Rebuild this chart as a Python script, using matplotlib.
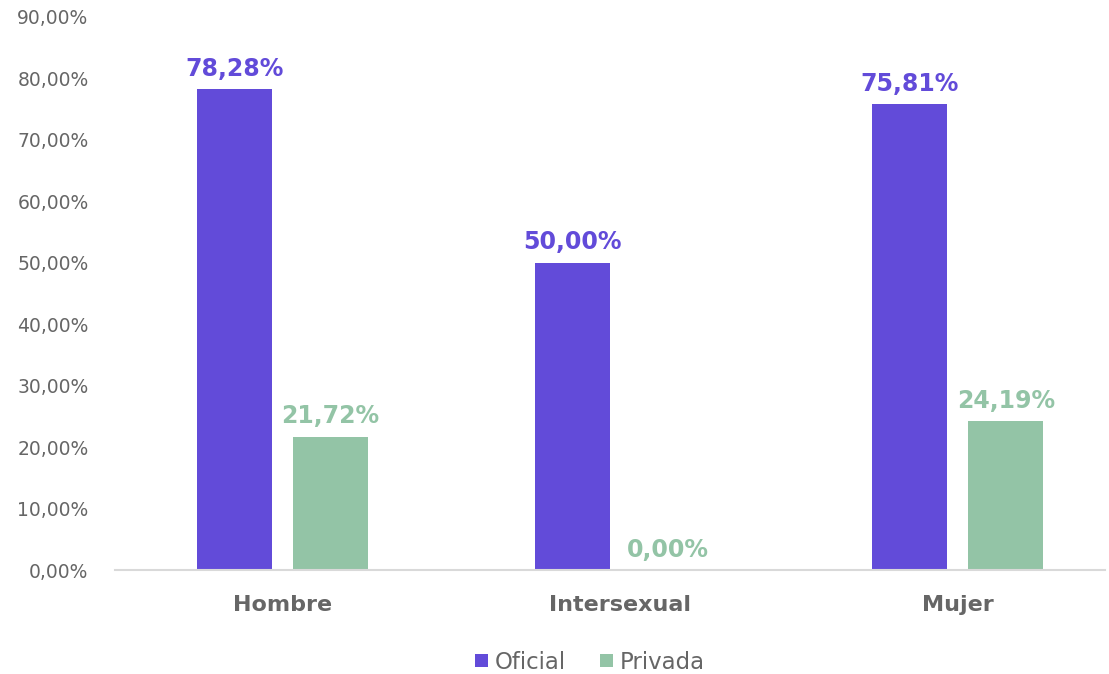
import numpy as np
import matplotlib.pyplot as plt
from matplotlib.ticker import FuncFormatter

# data
categories = ["Hombre", "Intersexual", "Mujer"]
oficial = [78.28, 50.00, 75.81]
privada = [21.72, 0.00, 24.19]

PURPLE = "#624bd9"
GREEN = "#93c4a6"
GRAY = "#666666"

plt.rcParams["font.family"] = ["DejaVu Sans"]

fig = plt.figure(figsize=(11.09, 6.74), dpi=100)
ax = fig.add_axes([0.1037, 0.1543, 0.8927, 0.8205])

x = np.arange(len(categories))
w = 0.222
off = 0.142
b1 = ax.bar(x - off, oficial, w, color=PURPLE, label="Oficial")
b2 = ax.bar(x + off, privada, w, color=GREEN, label="Privada")


def pct(v):
    return f"{v:.2f}".replace(".", ",") + "%"


for bars, vals, col in [(b1, oficial, PURPLE), (b2, privada, GREEN)]:
    for bar, v in zip(bars, vals):
        ax.annotate(pct(v), (bar.get_x() + bar.get_width() / 2, v),
                    xytext=(0, 6), textcoords="offset points",
                    ha="center", va="bottom", fontsize=17, fontweight="bold",
                    color=col)

ax.set_ylim(0, 90)
ax.set_xlim(-0.496, 2.436)
ax.set_yticks(np.arange(0, 91, 10))
ax.yaxis.set_major_formatter(FuncFormatter(lambda v, p: pct(v)))
ax.set_xticks(x)
ax.set_xticklabels(categories, fontsize=16, fontweight="bold", color=GRAY)
ax.tick_params(axis="y", length=0, labelsize=13.5, labelcolor=GRAY, pad=19)
ax.tick_params(axis="x", length=0, pad=18)

for s in ["top", "right", "left"]:
    ax.spines[s].set_visible(False)
ax.spines["bottom"].set_color("#d9d9d9")
ax.spines["bottom"].set_linewidth(1.5)

fig.legend(loc="lower center", bbox_to_anchor=(0.532, -0.03), ncol=2,
           frameon=False, fontsize=16.5, handlelength=0.55, handleheight=0.55,
           handletextpad=0.3, columnspacing=1.5, labelcolor=GRAY)

fig.savefig("out.png", dpi=100)
